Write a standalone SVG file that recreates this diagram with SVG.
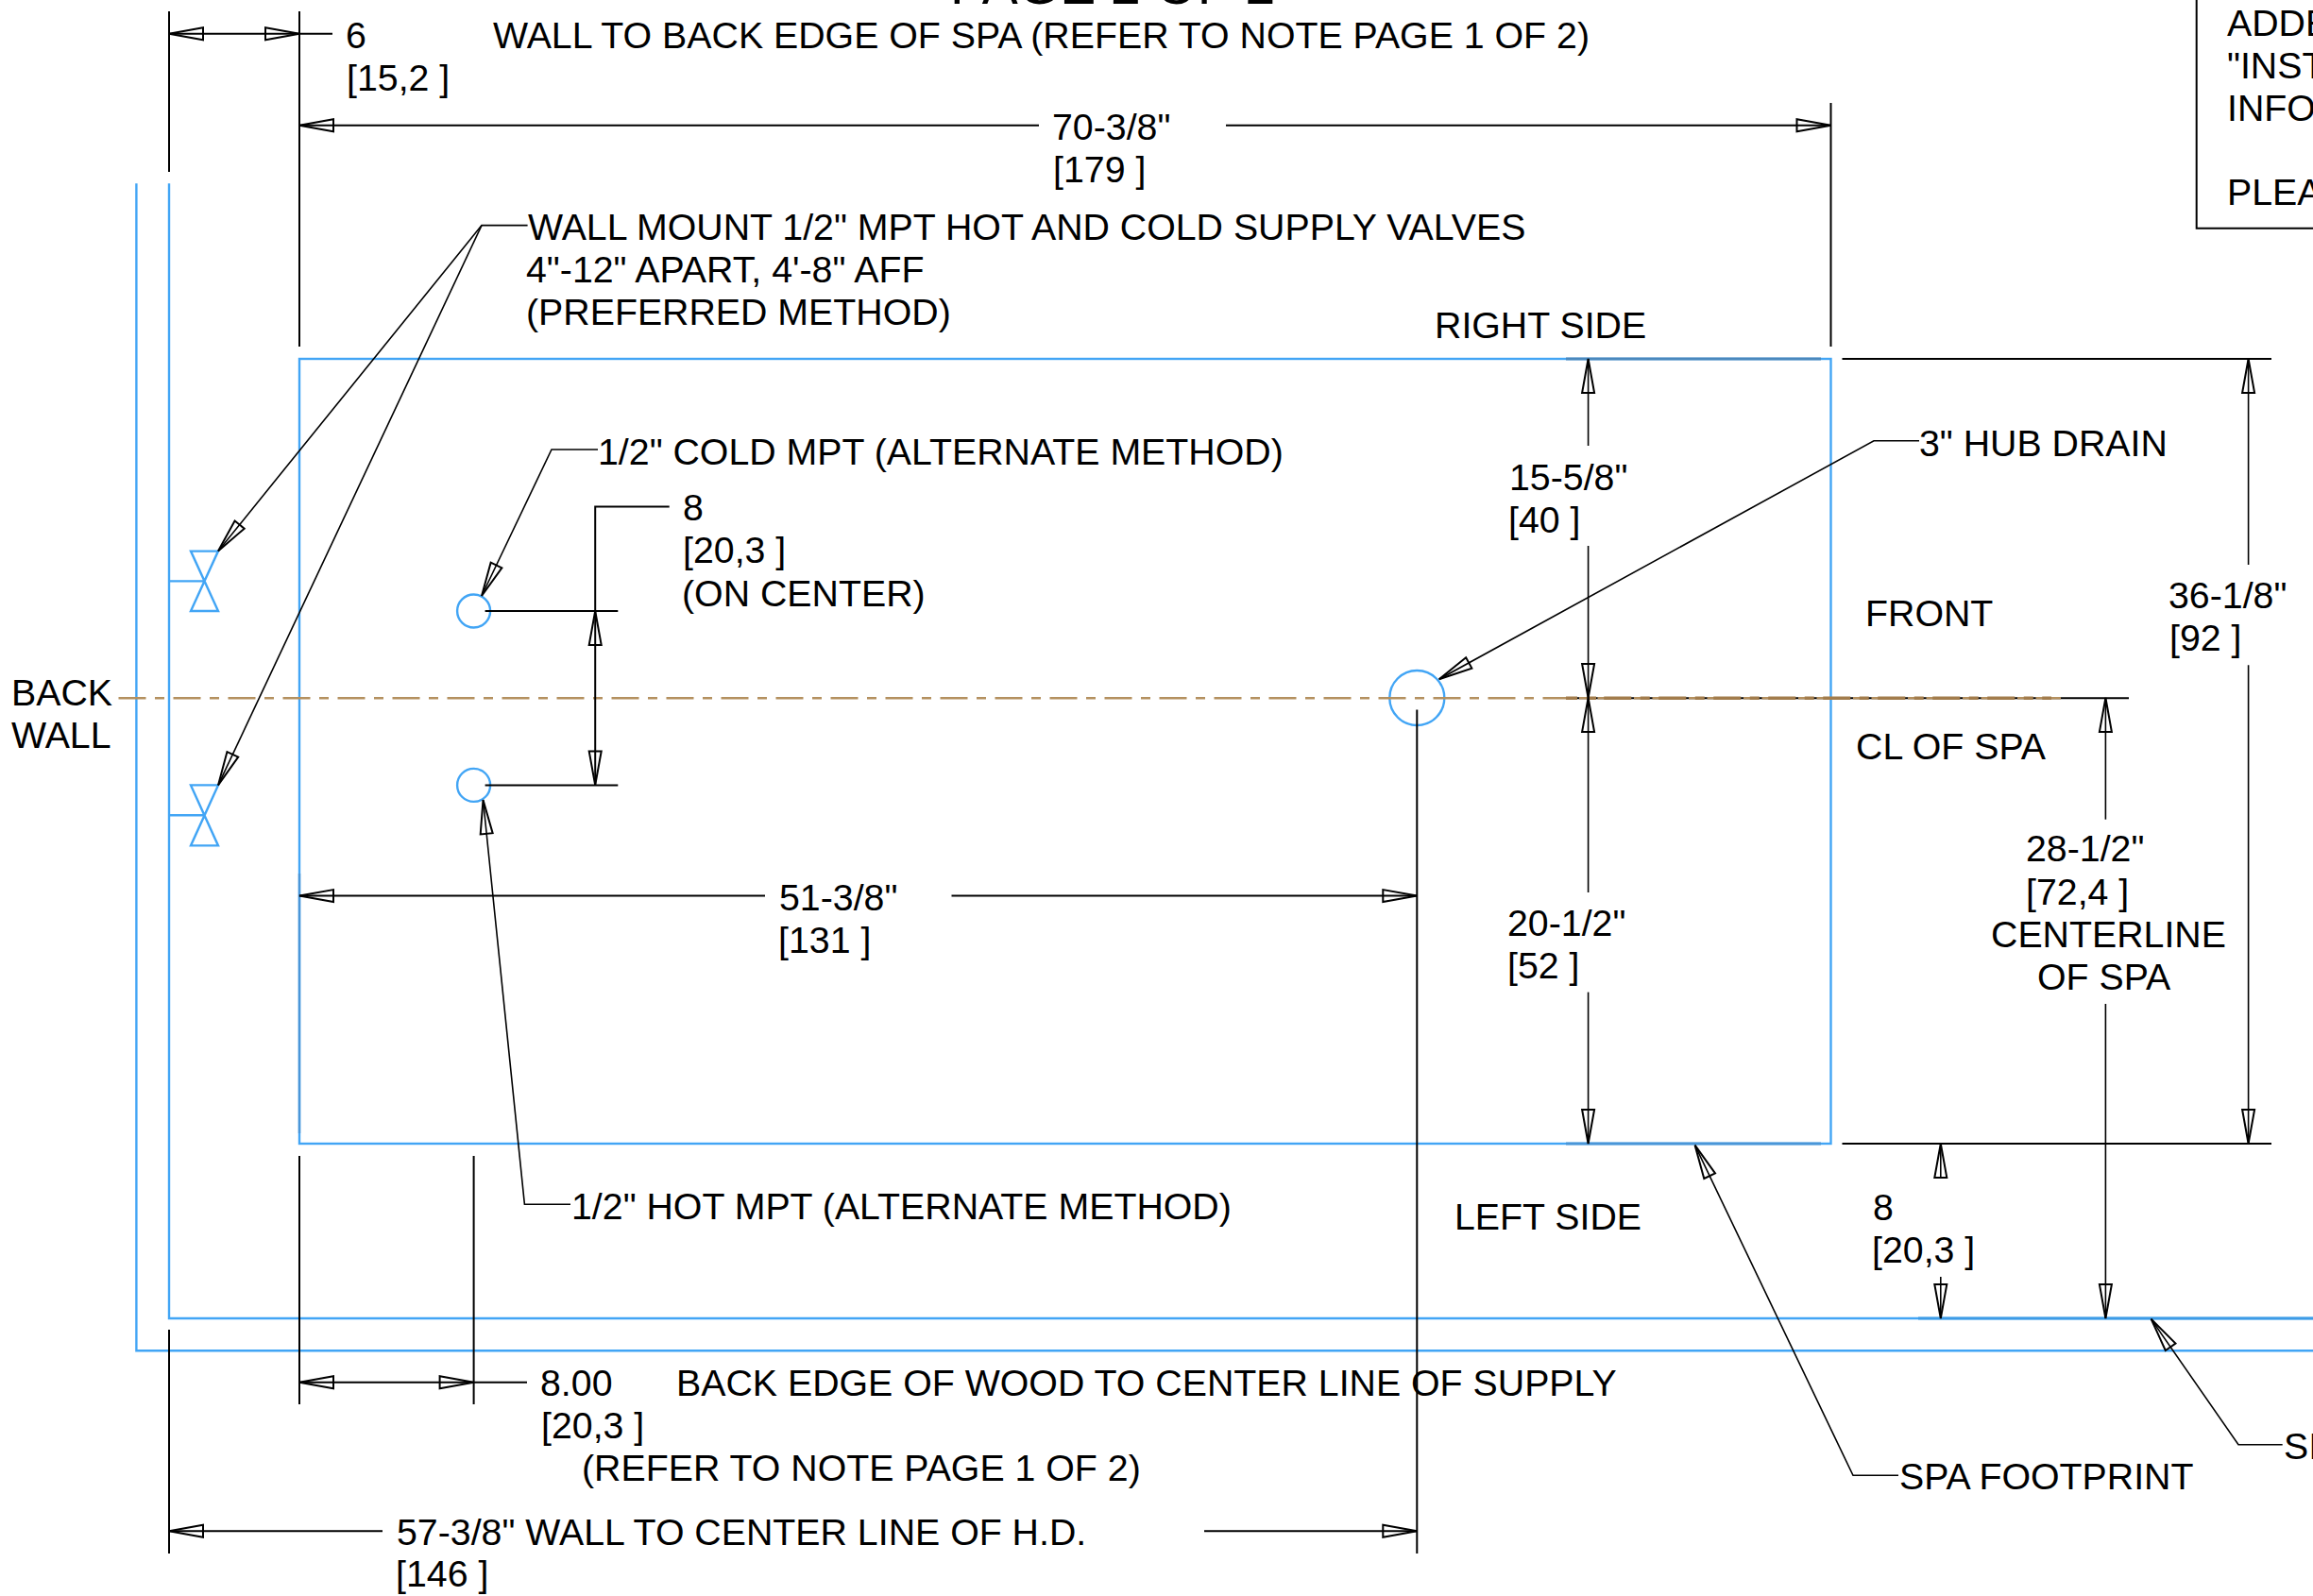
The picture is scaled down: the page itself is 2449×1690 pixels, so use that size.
<svg xmlns="http://www.w3.org/2000/svg" width="2449" height="1690" viewBox="0 0 2449 1690">
<style>
text{font-family:"Liberation Sans",Arial,sans-serif;font-size:39.3px;fill:#000}
.k{fill:none;stroke:#000;stroke-width:2}
.t{fill:none;stroke:#000;stroke-width:1.6}
.b{fill:none;stroke:#42a5f5;stroke-width:2.4}
.a{marker-end:url(#ah)}
.aa{marker-start:url(#ah);marker-end:url(#ah)}
</style>
<defs>
<marker id="ah" markerUnits="userSpaceOnUse" viewBox="-39 -9 42 18" refX="0" refY="0" markerWidth="42" markerHeight="18" orient="auto-start-reverse">
<path d="M0,0L-36,-6.5V6.5Z" fill="none" stroke="#000" stroke-width="2"/>
</marker>
</defs>
<rect width="2449" height="1690" fill="#fff"/>
<g id="wall"><path class="b" d="M144.4,194.3V1430.3H2449M179,194.3V1396H2449"/><path d="M2031,1396H2449" fill="none" stroke="#3d9be6" stroke-width="3"/></g>
<g id="spa-footprint"><rect class="b" x="317" y="380" width="1621.5" height="831"/><path d="M1658,380H1928" fill="none" stroke="#4a88bd" stroke-width="3"/><path d="M1658,1211H1928" fill="none" stroke="#4a96d8" stroke-width="3"/><path d="M317,925V1200" fill="none" stroke="#4a96d8" stroke-width="2.4"/></g>
<g id="valve-top"><path class="b" d="M202,583.6H231L202,647H231ZM179,615.4H216.5"/></g>
<g id="valve-bottom"><path class="b" d="M202,831.4H231L202,895.4H231ZM179,863.2H216.5"/></g>
<g id="cold-port"><circle class="b" cx="501.6" cy="647" r="17.5"/></g>
<g id="hot-port"><circle class="b" cx="501.6" cy="831.4" r="17.5"/></g>
<g id="hub-drain"><circle class="b" cx="1500.3" cy="739" r="29"/></g>
<g id="centerline">
<path d="M1658,739.2H2254" class="k"/>
<path d="M125.5,739.2H2182" fill="none" stroke="#b4905f" stroke-width="2.4" stroke-dasharray="29 9.5 10 9.5"/>
<path d="M1698.25,739.2H2172" fill="none" stroke="#a27c4c" stroke-width="3.4" stroke-dasharray="29 9.5 10 9.5"/>
<path d="M1658,739.2H1670M1680,739.2H1690" fill="none" stroke="#a27c4c" stroke-width="3.4"/>
</g>
<g id="connectors">
<path class="k" d="M179,12V182M317,12V367M1938.5,109V367M179,1408V1645M317,1224V1487M501.6,1224V1487M1500.3,751.4V1645M1950.5,380H2405M1950.5,1211H2405M513.6,647H654.3M513.6,831.4H654.3M708.7,536.4H630.2V647"/>
<path class="k aa" d="M179,35.7H317"/><path class="k" d="M317,35.7H352"/>
<path class="k a" d="M1100,132.7H317"/><path class="k a" d="M1298,132.7H1938.5"/>
<path class="k aa" d="M630.2,647V831.4"/>
<path class="k a" d="M810,948.6H317"/><path class="k a" d="M1007.5,948.6H1500.3"/>
<path class="k aa" d="M317,1463.7H501.6"/><path class="k" d="M501.6,1463.7H558"/>
<path class="k a" d="M405,1621.3H179"/><path class="k a" d="M1275,1621.3H1500.3"/>
<path class="t a" d="M1681.6,472V380"/><path class="t a" d="M1681.6,578V739"/>
<path class="t a" d="M1681.6,945V739"/><path class="t a" d="M1681.6,1050.6V1211"/>
<path class="t a" d="M2380.6,598V380"/><path class="t a" d="M2380.6,704.3V1211"/>
<path class="t a" d="M2229.4,867.7V739"/><path class="t a" d="M2229.4,1063V1396"/>
<path class="t a" d="M2054.8,1248V1211"/><path class="t a" d="M2054.8,1352V1396"/>
<path class="t a" d="M558.6,238.6H510L231,583.6"/><path class="t a" d="M510,238.6L231,831.4"/>
<path class="t a" d="M633,476H584L510,631"/>
<path class="t a" d="M604,1275.3H555.4L511.5,847"/>
<path class="t a" d="M2032,466.8H1984L1523.7,719.2"/>
<path class="t a" d="M2010,1562.3H1962L1794.6,1212.7"/>
<path class="t a" d="M2416.7,1529.7H2370L2277.6,1396.7"/>
</g>
<g id="note-box"><path class="k" d="M2325.7,0V241.8H2449"/>
<text x="2358" y="37.5">ADDE</text><text x="2358" y="83">"INST</text><text x="2358" y="128">INFO</text><text x="2358" y="217">PLEA</text></g>
<g id="labels" transform="translate(0,0.8)">
<text x="1006" y="3" style="font-size:57px">PAGE 2 OF 2</text>
<text x="366" y="50">6</text><text x="367" y="95">[15,2 ]</text>
<text x="522" y="50">WALL TO BACK EDGE OF SPA (REFER TO NOTE PAGE 1 OF 2)</text>
<text x="1114" y="147.7">70-3/8"</text><text x="1115" y="192.5">[179 ]</text>
<text x="559" y="253">WALL MOUNT 1/2" MPT HOT AND COLD SUPPLY VALVES</text>
<text x="557" y="298.5">4"-12" APART, 4'-8" AFF</text>
<text x="557" y="343.5">(PREFERRED METHOD)</text>
<text x="1519" y="357">RIGHT SIDE</text>
<text x="633" y="491">1/2" COLD MPT (ALTERNATE METHOD)</text>
<text x="723" y="550">8</text><text x="723" y="595.4">[20,3 ]</text><text x="722" y="641">(ON CENTER)</text>
<text x="1598" y="518">15-5/8"</text><text x="1597" y="563">[40 ]</text>
<text x="2032" y="482">3" HUB DRAIN</text>
<text x="1975" y="662">FRONT</text>
<text x="2296" y="643.6">36-1/8"</text><text x="2297" y="688.6">[92 ]</text>
<text x="12" y="746">BACK</text><text x="12" y="791">WALL</text>
<text x="1965" y="803.4">CL OF SPA</text>
<text x="2145" y="911.7">28-1/2"</text><text x="2145" y="957">[72,4 ]</text>
<text x="2108" y="1002.4">CENTERLINE</text><text x="2157" y="1046.8">OF SPA</text>
<text x="825" y="963.6">51-3/8"</text><text x="824" y="1008.6">[131 ]</text>
<text x="1596" y="990">20-1/2"</text><text x="1596" y="1035">[52 ]</text>
<text x="605" y="1290.7">1/2" HOT MPT (ALTERNATE METHOD)</text>
<text x="1540" y="1301">LEFT SIDE</text>
<text x="1983" y="1291">8</text><text x="1982" y="1336.7">[20,3 ]</text>
<text x="572" y="1477.7">8.00</text><text x="716" y="1477.7">BACK EDGE OF WOOD TO CENTER LINE OF SUPPLY</text>
<text x="573" y="1522.7">[20,3 ]</text>
<text x="616" y="1567.7">(REFER TO NOTE PAGE 1 OF 2)</text>
<text x="2011" y="1576.7">SPA FOOTPRINT</text>
<text x="2418" y="1544">SI</text>
<text x="420" y="1635">57-3/8" WALL TO CENTER LINE OF H.D.</text>
<text x="419" y="1679">[146 ]</text>
</g>
</svg>
